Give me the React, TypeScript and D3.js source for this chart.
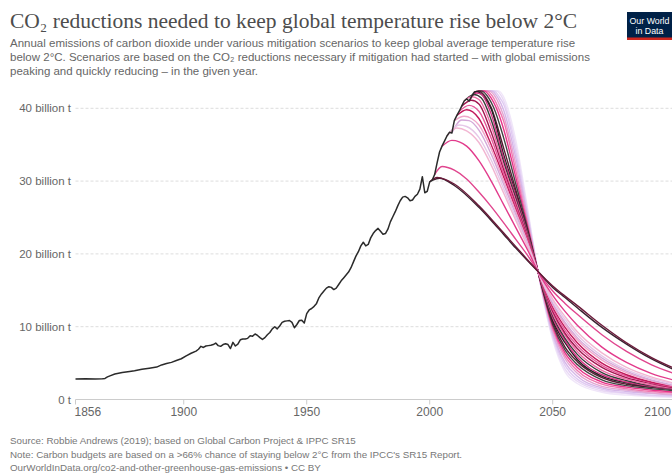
import React from "react";
import * as d3 from "d3";

// ---------- DATA ----------
const histYears = [1856,1860,1864,1867,1868,1869,1870,1872,1875,1878,1880,1883,1886,1889,1891,1893,1895,1897,1899,1901,1903,1905,1906,1907,1908,1909,1910,1911,1912,1913,1914,1915,1916,1917,1918,1919,1920,1921,1922,1923,1924,1925,1926,1927,1928,1929,1930,1931,1932,1933,1934,1935,1936,1937,1938,1939,1940,1941,1942,1943,1944,1945,1946,1947,1948,1949,1950,1951,1952,1953,1954,1955,1956,1957,1958,1959,1960,1961,1962,1963,1964,1965,1966,1967,1968,1969,1970,1971,1972,1973,1974,1975,1976,1977,1978,1979,1980,1981,1982,1983,1984,1985,1986,1987,1988,1989,1990,1991,1992,1993,1994,1995,1996,1997,1998,1999,2000,2001,2002,2003,2004,2005,2006,2007,2008,2009,2010,2011,2012,2013,2014,2015,2016,2017,2018];
const histValues = [2.8,2.85,2.8,2.85,2.9,3.1,3.25,3.5,3.7,3.85,3.95,4.15,4.3,4.45,4.75,4.95,5.1,5.35,5.6,6.0,6.35,6.65,6.9,7.3,7.15,7.35,7.4,7.45,7.55,7.75,7.4,7.3,7.55,7.65,7.55,7.0,7.85,7.35,7.6,8.2,8.3,8.3,8.4,8.75,8.7,9.0,8.8,8.5,8.25,8.5,8.9,9.2,9.7,10.0,9.7,10.1,10.6,10.75,10.8,10.85,10.6,9.85,10.3,10.85,10.9,10.5,11.8,12.3,12.5,12.8,13.2,14.0,14.5,14.9,15.3,15.5,15.4,15.1,15.3,15.8,16.3,16.7,17.1,17.5,18.1,18.9,19.7,20.3,21.1,21.6,21.1,21.3,22.2,22.8,23.2,23.5,23.1,22.7,22.8,23.4,24.4,25.1,25.8,26.6,27.3,27.8,27.9,27.7,27.3,27.4,27.9,28.2,28.9,30.6,28.4,28.6,29.9,30.1,30.9,32.5,34.0,34.8,35.5,36.2,36.7,36.6,38.3,39.0,39.6,40.3,41.0,41.3,41.0,41.6,42.2];

const scenarioStartYears = [2000,2001,2002,2005,2007,2008,2009,2010,2011,2012,2013,2014,2015,2016,2017,2018,2019,2020,2021,2022,2023,2024,2025,2026];
const scenarioColors = ["#6b1a3a","#3a2230","#e0458e","#e23b8c","#f2b6d2","#e6c8e8","#d4a9d9","#f0a6c9","#c2185b","#e75a9c","#a0174f","#f06aa6","#3a3a3a","#d63384","#222222","#5b1a33","#444444","#e8338a","#f078b0","#e2a6d2","#d6b6e8","#e0caf2","#e9d9f5","#f0e6f9"];

// head points (year, value) per scenario, before 2030
const scenarioHeads = [
  [[2000,29.9],[2003,30.5],[2010,29.6],[2020,26.6],[2025,24.8]],
  [[2001,30.1],[2004,30.4],[2010,29.4],[2020,26.4],[2025,24.6]],
  [[2002,30.9],[2005,32.0],[2010,31.5],[2015,30.3],[2020,28.5],[2025,26.5]],
  [[2005,34.8],[2009,35.6],[2015,34.8],[2020,32.8],[2025,30.0]],
  [[2007,36.2],[2011,37.3],[2015,36.9],[2020,35.3],[2025,32.2]],
  [[2008,36.7],[2012,37.7],[2015,37.5],[2020,36.0],[2025,32.9]],
  [[2009,36.6],[2013,38.4],[2016,38.3],[2020,37.0],[2025,33.7]],
  [[2010,38.3],[2014,38.9],[2017,38.6],[2020,37.7],[2025,34.4]],
  [[2011,39.0],[2015,39.8],[2020,38.6],[2025,35.0]],
  [[2012,39.6],[2016,40.4],[2020,39.6],[2025,35.9]],
  [[2013,40.3],[2017,41.1],[2020,40.6],[2025,36.7]],
  [[2014,41.0],[2017,41.6],[2020,41.2],[2025,37.6]],
  [[2015,41.3],[2018,41.9],[2021,41.4],[2025,38.4]],
  [[2016,41.0],[2019,42.1],[2021,41.9],[2025,39.2]],
  [[2017,41.6],[2019,42.3],[2022,41.6],[2025,39.9]],
  [[2018,42.2],[2020,42.4],[2023,41.4],[2025,40.1]],
  [[2018,42.2],[2021,42.4],[2024,41.4],[2026,40.1]],
  [[2018,42.2],[2022,42.4],[2025,41.4],[2027,40.1]],
  [[2018,42.2],[2023,42.4],[2026,41.4],[2028,40.0]],
  [[2018,42.2],[2024,42.4],[2027,41.4],[2029,39.9]],
  [[2018,42.2],[2025,42.4],[2028,41.3]],
  [[2018,42.2],[2026,42.4],[2029,41.2]],
  [[2018,42.2],[2027,42.4]],
  [[2018,42.2],[2028,42.4]],
];

const tailYears = [2030,2035,2040,2044,2050,2055,2060,2070,2080,2090,2100];
const scenarioTails = [
  [22.9,21.0,19.1,17.6,15.6,14.2,12.9,10.2,7.8,5.8,4.2],
  [22.7,20.8,19.0,17.6,15.4,14.0,12.6,9.9,7.6,5.6,4.0],
  [24.3,22.0,19.7,17.6,14.9,13.2,11.7,8.9,6.6,4.8,3.5],
  [26.8,23.6,20.4,17.6,14.3,12.1,10.2,7.2,5.1,3.6,2.6],
  [28.4,24.6,20.8,17.6,13.8,11.4,9.3,6.4,4.4,3.1,2.2],
  [29.0,25.0,21.0,17.6,13.5,11.0,8.9,6.0,4.1,2.9,2.1],
  [29.6,25.4,21.2,17.6,13.2,10.6,8.5,5.7,3.9,2.7,1.9],
  [30.1,25.8,21.4,17.6,13.0,10.3,8.2,5.4,3.7,2.6,1.8],
  [30.6,26.1,21.6,17.6,12.7,9.9,7.8,5.0,3.4,2.4,1.8],
  [31.1,26.5,21.8,17.6,12.4,9.5,7.4,4.7,3.2,2.3,1.7],
  [31.6,26.8,22.0,17.6,12.1,9.1,7.0,4.4,3.0,2.2,1.6],
  [32.1,27.2,22.2,17.6,11.8,8.8,6.6,4.0,2.8,2.0,1.5],
  [32.7,27.6,22.4,17.6,11.5,8.4,6.2,3.7,2.6,1.9,1.5],
  [33.2,28.0,22.6,17.6,11.2,8.1,5.8,3.4,2.4,1.8,1.4],
  [33.7,28.3,22.8,17.6,10.9,7.8,5.5,3.2,2.3,1.7,1.4],
  [34.6,28.8,22.9,17.6,10.6,7.2,5.2,3.0,2.1,1.7,1.4],
  [36.0,29.6,23.2,17.6,10.3,6.8,4.8,2.7,1.9,1.5,1.2],
  [37.2,30.5,23.5,17.6,10.0,6.4,4.4,2.4,1.7,1.3,1.0],
  [38.3,31.4,23.8,17.6,9.7,6.0,4.0,2.1,1.5,1.1,0.9],
  [39.0,32.3,24.2,17.6,9.4,5.6,3.6,1.8,1.3,0.9,0.7],
  [39.8,33.2,24.6,17.6,9.1,5.1,3.2,1.6,1.1,0.8,0.6],
  [40.6,34.0,25.0,17.6,8.8,4.7,2.8,1.4,0.9,0.6,0.5],
  [41.1,34.8,25.4,17.6,8.5,4.2,2.5,1.2,0.8,0.5,0.4],
  [41.6,35.6,25.8,17.6,8.2,3.8,2.2,1.0,0.6,0.4,0.3],
];

const yTicks = [0,10,20,30,40];
const yTickLabels = ["0 t","10 billion t","20 billion t","30 billion t","40 billion t"];
const xTicks = [1856,1900,1950,2000,2050,2100];

const title = "CO₂ reductions needed to keep global temperature rise below 2°C";
const subtitleLines = [
  "Annual emissions of carbon dioxide under various mitigation scenarios to keep global average temperature rise",
  "below 2°C. Scenarios are based on the CO₂ reductions necessary if mitigation had started – with global emissions",
  "peaking and quickly reducing – in the given year.",
];
const footerLines = [
  "Source: Robbie Andrews (2019); based on Global Carbon Project & IPPC SR15",
  "Note: Carbon budgets are based on a >66% chance of staying below 2°C from the IPCC's SR15 Report.",
  "OurWorldInData.org/co2-and-other-greenhouse-gas-emissions • CC BY",
];

// ---------- CHART ----------
const W = 672, H = 473;
const sans = "'Liberation Sans', Arial, Helvetica, sans-serif";
const serif = "'Liberation Serif', 'Times New Roman', serif";

export default function App() {
  const x = d3.scaleLinear().domain([1856, 2100]).range([75.5, 675.7]);
  const y = d3.scaleLinear().domain([0, 40]).range([399.5, 108.3]);

  const histPts: [number, number][] = histYears.map((yr, i) => [yr, histValues[i]]);
  const histLine = d3.line<[number, number]>().x(d => x(d[0])).y(d => y(d[1]));
  const scenLine = d3.line<[number, number]>().x(d => x(d[0])).y(d => y(d[1])).curve(d3.curveMonotoneX);

  const scenarios = scenarioStartYears.map((s, i) => {
    const pts: [number, number][] = [
      ...(scenarioHeads[i] as [number, number][]),
      ...tailYears.map((yr, j) => [yr, scenarioTails[i][j]] as [number, number]),
    ];
    return { s, color: scenarioColors[i], pts };
  });
  const drawOrder = scenarios.slice().reverse();
  const last = xTicks.length - 1;

  return (
    <svg width={W} height={H} viewBox={`0 0 ${W} ${H}`} style={{ position: "absolute", left: 0, top: 0, background: "#fff" }}>
      <rect x={0} y={0} width={W} height={H} fill="#fff" />
      {/* title */}
      <text x={10} y={28} fontFamily={serif} fontSize={21.5} fill="#4d4d4d">{title}</text>
      {subtitleLines.map((t, i) => (
        <text key={i} x={10} y={47 + i * 14} fontFamily={sans} fontSize={11.5} fill="#666">{t}</text>
      ))}
      {/* logo */}
      <g>
        <rect x={627} y={12} width={50} height={28} fill="#002147" />
        <rect x={627} y={37.5} width={50} height={2.5} fill="#ce261e" />
        <text x={649.5} y={24} textAnchor="middle" fontFamily={sans} fontSize={8.8} fill="#fff">Our World</text>
        <text x={649.5} y={33.5} textAnchor="middle" fontFamily={sans} fontSize={8.8} fill="#fff">in Data</text>
      </g>
      {/* grid */}
      {yTicks.map((t, i) => (
        <g key={t}>
          {t > 0 && (
            <line x1={x(1856)} x2={W} y1={y(t)} y2={y(t)} stroke="#ddd" strokeDasharray="3,2" strokeWidth={1} />
          )}
          <text x={71} y={y(t) + 4} textAnchor="end" fontFamily={sans} fontSize={11.5} fill="#666">{yTickLabels[i]}</text>
        </g>
      ))}
      {/* x axis */}
      <line x1={x(1856)} x2={W} y1={y(0)} y2={y(0)} stroke="#ccc" strokeWidth={1} />
      {xTicks.map((t, i) => (
        <g key={t}>
          <line x1={x(t)} x2={x(t)} y1={y(0)} y2={y(0) + 5} stroke="#ccc" />
          <text
            x={i === 0 ? x(t) - 1 : i === last ? W - 1 : x(t)}
            y={y(0) + 16}
            textAnchor={i === 0 ? "start" : i === last ? "end" : "middle"}
            fontFamily={sans}
            fontSize={12}
            fill="#666"
          >{t}</text>
        </g>
      ))}
      {/* scenarios */}
      {drawOrder.map(sc => (
        <path key={sc.s} d={scenLine(sc.pts) || ""} fill="none" stroke={sc.color} strokeWidth={1.4} />
      ))}
      {/* historical */}
      <path d={histLine(histPts) || ""} fill="none" stroke="#2b2b2b" strokeWidth={1.5} strokeLinejoin="round" />
      {/* footer */}
      {footerLines.map((t, i) => (
        <text key={i} x={10} y={444 + i * 13.5} fontFamily={sans} fontSize={9.8} fill="#777">{t}</text>
      ))}
    </svg>
  );
}
